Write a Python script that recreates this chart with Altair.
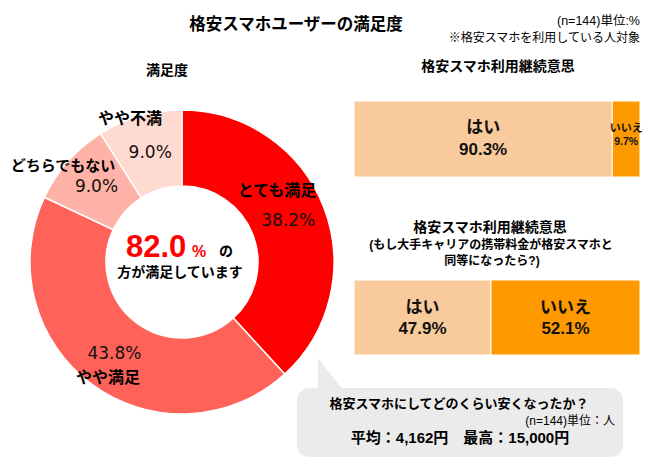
import altair as alt
import pandas as pd

# ---------------- data ----------------
sat_labels = ["とても満足", "やや満足", "どちらでもない", "やや不満"]
sat_values = [38.2, 43.8, 9.0, 9.0]
sat_colors = ["#FF0000", "#FF6259", "#FFB3A8", "#FFDAD0"]

yn_labels = ["はい", "いいえ"]
cont_values = [90.3, 9.7]      # 格安スマホ利用継続意思
cond_values = [47.9, 52.1]     # もし大手キャリアの携帯料金が同等になったら
bar_colors = ["#F9CB9C", "#FF9900"]

satisfied_total = 82.0
avg_saving = "4,162"
max_saving = "15,000"

# ---------------- helpers ----------------
JP = "Noto Sans CJK JP"
LAT = "Liberation Sans, Noto Sans CJK JP"
OFF = 8
W, H = 634, 454


def px(v):
    return v - OFF


def txt(text, x, y, size, weight="normal", color="#000000", align="center", font=JP):
    return alt.Chart(pd.DataFrame({"t": [text]})).mark_text(
        font=font, fontSize=size, fontWeight=weight, color=color,
        align=align, baseline="middle"
    ).encode(text="t:N", x=alt.value(px(x)), y=alt.value(px(y)))


layers = []

# ---------------- speech bubble ----------------
layers.append(
    alt.Chart(pd.DataFrame({"a": [0]})).mark_rect(
        color="#EBEBEB", cornerRadius=12
    ).encode(x=alt.value(px(297)), x2=alt.value(px(623)),
             y=alt.value(px(388)), y2=alt.value(px(457)))
)
layers.append(
    alt.Chart(pd.DataFrame({"a": [0]})).mark_point(
        shape="M-0.8,-1L-0.8,1.05L0.8,1.05Z", size=900, filled=True,
        color="#EBEBEB", opacity=1, strokeWidth=0
    ).encode(x=alt.value(px(330)), y=alt.value(px(373)))
)

# ---------------- donut ----------------
sat_df = pd.DataFrame({
    "label": sat_labels,
    "value": sat_values,
    "order": list(range(len(sat_labels))),
    "pct": [f"{v:.1f}%" for v in sat_values],
})
cx, cy = px(182), px(262)
donut_base = alt.Chart(sat_df).encode(
    theta=alt.Theta("value:Q", stack=True, scale=alt.Scale(domain=[0, 100])),
    order=alt.Order("order:Q"),
)
arc = donut_base.mark_arc(
    outerRadius=152, innerRadius=76, stroke="white", strokeWidth=1.5
).encode(
    color=alt.Color("label:N", scale=alt.Scale(domain=sat_labels, range=sat_colors), legend=None),
    x=alt.value(cx), y=alt.value(cy),
)
pct = donut_base.mark_text(
    radius=114, font="DejaVu Sans", fontSize=17, fontWeight=500, color="#111111"
).encode(text="pct:N", x=alt.value(cx), y=alt.value(cy))
layers.append(alt.layer(arc, pct))

# donut category names
layers.append(txt("とても満足", 277, 191, 16, "bold"))
layers.append(txt("やや満足", 108, 378, 16, "bold"))
layers.append(txt("どちらでもない", 63, 166, 15, "bold"))
layers.append(txt("やや不満", 130, 119, 16, "bold"))

# donut centre text
layers.append(
    alt.Chart(pd.DataFrame({"t": [f"{satisfied_total:.1f}"]})).mark_text(
        font=LAT, fontSize=31, fontWeight="bold", color="#FF0000",
        align="left", baseline="alphabetic"
    ).encode(text="t:N", x=alt.value(px(126)), y=alt.value(px(257)))
)
layers.append(
    alt.Chart(pd.DataFrame({"t": ["%"]})).mark_text(
        font=LAT, fontSize=16, fontWeight="bold", color="#FF0000",
        align="left", baseline="alphabetic"
    ).encode(text="t:N", x=alt.value(px(192)), y=alt.value(px(257)))
)
layers.append(
    alt.Chart(pd.DataFrame({"t": ["の"]})).mark_text(
        font=JP, fontSize=14, fontWeight="bold", color="#000000",
        align="left", baseline="alphabetic"
    ).encode(text="t:N", x=alt.value(px(219)), y=alt.value(px(256)))
)
layers.append(txt("方が満足しています", 180, 273, 14, "bold"))

# ---------------- stacked bars ----------------
xs = alt.Scale(domain=[0, 100], range=[px(354), px(640)])


def stacked_bar(values, y_top, y_bot):
    df = pd.DataFrame({"label": yn_labels, "value": values, "order": [0, 1],
                       "pct": [f"{v:.1f}%" for v in values]})
    b = alt.Chart(df).transform_stack(
        stack="value", as_=["x0", "x1"], groupby=[], sort=[alt.SortField("order")]
    ).transform_calculate(mid="(datum.x0 + datum.x1) / 2")
    rect = b.mark_rect(stroke="white", strokeWidth=1).encode(
        x=alt.X("x0:Q", scale=xs, axis=None), x2="x1:Q",
        y=alt.value(px(y_top)), y2=alt.value(px(y_bot)),
        color=alt.Color("label:N", scale=alt.Scale(domain=yn_labels, range=bar_colors), legend=None),
    )
    return b, rect


b1, r1 = stacked_bar(cont_values, 101, 177)
yes1 = b1.transform_filter("datum.order == 0")
no1 = b1.transform_filter("datum.order == 1")
bar1 = alt.layer(
    r1,
    yes1.mark_text(font=LAT, fontSize=17, fontWeight="bold", color="#111111").encode(
        x=alt.X("mid:Q", scale=xs, axis=None), y=alt.value(px(128)), text="label:N"),
    yes1.mark_text(font=LAT, fontSize=17, fontWeight="bold", color="#111111").encode(
        x=alt.X("mid:Q", scale=xs, axis=None), y=alt.value(px(150)), text="pct:N"),
    no1.mark_text(font=LAT, fontSize=11, fontWeight="bold", color="#111111").encode(
        x=alt.X("mid:Q", scale=xs, axis=None), y=alt.value(px(129)), text="label:N"),
    no1.mark_text(font=LAT, fontSize=10.5, fontWeight="bold", color="#111111").encode(
        x=alt.X("mid:Q", scale=xs, axis=None), y=alt.value(px(142)), text="pct:N"),
)
layers.append(bar1)

b2, r2 = stacked_bar(cond_values, 280, 355)
bar2 = alt.layer(
    r2,
    b2.mark_text(font=LAT, fontSize=17, fontWeight="bold", color="#111111").encode(
        x=alt.X("mid:Q", scale=xs, axis=None), y=alt.value(px(308)), text="label:N"),
    b2.mark_text(font=LAT, fontSize=17, fontWeight="bold", color="#111111").encode(
        x=alt.X("mid:Q", scale=xs, axis=None), y=alt.value(px(329)), text="pct:N"),
)
layers.append(bar2)

# ---------------- titles & notes ----------------
layers.append(txt("格安スマホユーザーの満足度", 296, 25, 16.5, "bold"))
layers.append(txt("(n=144)単位:%", 640, 21, 12.5, align="right", font=LAT))
layers.append(txt("※格安スマホを利用している人対象", 640, 38, 12, align="right"))
layers.append(txt("満足度", 167, 71, 14, "bold"))
layers.append(txt("格安スマホ利用継続意思", 498, 67, 14, "bold"))
layers.append(txt("格安スマホ利用継続意思", 490, 228, 14, "bold"))
layers.append(txt("(もし大手キャリアの携帯料金が格安スマホと", 491, 245, 12, "bold", font=LAT))
layers.append(txt("同等になったら?)", 492, 261, 12, "bold", font=LAT))

layers.append(txt("格安スマホにしてどのくらい安くなったか？", 459, 404, 13, "bold"))
layers.append(txt("(n=144)単位：人", 615, 421, 12, align="right", font=LAT))
layers.append(txt(f"平均：{avg_saving}円　最高：{max_saving}円", 460, 438, 15, "bold", font=LAT))

chart = alt.layer(*layers).resolve_scale(
    theta="independent", color="independent", x="independent", y="independent"
).properties(
    width=W, height=H, padding=0, autosize="none", background="white"
).configure_view(stroke=None)

chart.save("out.html", embed_options={"renderer": "svg", "actions": False})
